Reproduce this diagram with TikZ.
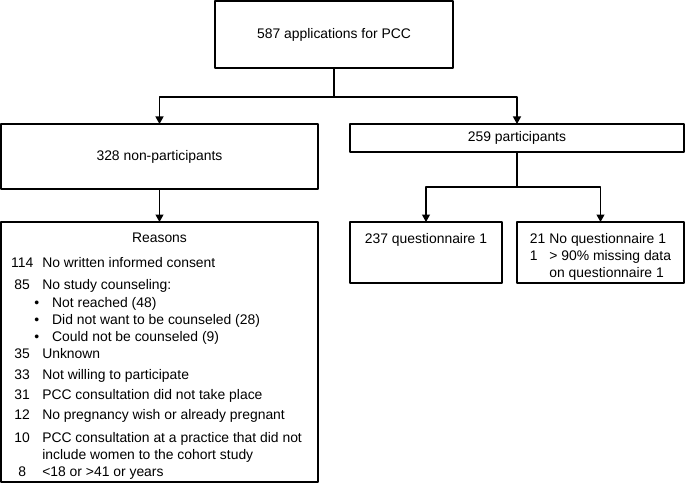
\documentclass[tikz,border=0pt]{standalone}
\usepackage{fontspec}
\setmainfont{Liberation Sans}
\usetikzlibrary{arrows.meta}

\tikzset{
  flowbox/.style={draw, rectangle, line width=1.1pt, inner sep=0pt, outer sep=0pt,
    font=\fontsize{13.9}{17}\selectfont},
  link/.style={line width=1.1pt},
}
\newcommand{\rsnitem}{\hspace{-8pt}\textbullet\hspace{13pt}}

\begin{document}
\begin{tikzpicture}[line cap=round,line join=round,>={Triangle[width=8pt,length=7.5pt]},x=1pt,y=-1pt]
      \useasboundingbox (0,0) rectangle (685,489);

      % Add Boxes
      \node[flowbox, minimum width=238, minimum height=67] (apps) at (334,34.5) {587 applications for PCC};
      \node[flowbox, minimum width=317, minimum height=65] (nonpart) at (159.5,156.5) {328 non-participants};
      \node[flowbox, minimum width=334, minimum height=28] (part) at (517,138) {259 participants};
      \node[flowbox, minimum width=152, minimum height=61] (quest) at (426,252.5)
        {\raisebox{-5pt}[\height][\depth]{\begin{tabular}{@{}l@{}}237 questionnaire 1\\ \strut\\ \strut\end{tabular}}};
      \node[flowbox, minimum width=167, minimum height=61] (noquest) at (600.5,252.5)
        {\raisebox{-5pt}[\height][\depth]{\begin{tabular}{@{}l@{\hspace{4pt}}l@{}}
          21 & No questionnaire 1\\
          1 & > 90\% missing data\\
           & on questionnaire 1
        \end{tabular}}};
      \node[flowbox, minimum width=317, minimum height=260] (reasons) at (159.5,352)
        {\raisebox{-4pt}[\height][\depth]{\begin{tabular}{@{}c@{\hspace{9pt}}l@{\hspace{6pt}}}
          \multicolumn{2}{@{}c@{}}{Reasons}\\[8pt]
          114 & No written informed consent\\[5pt]
          85 & No study counseling:\\[1pt]
           & \rsnitem Not reached (48)\\
           & \rsnitem Did not want to be counseled (28)\\
           & \rsnitem Could not be counseled (9)\\
          35 & Unknown\\[4pt]
          33 & Not willing to participate\\[3pt]
          31 & PCC consultation did not take place\\[3pt]
          12 & No pregnancy wish or already pregnant\\[6pt]
          10 & PCC consultation at a practice that did not\\
           & include women to the cohort study\\
          8 & <18 or >41 or years
        \end{tabular}}};

      % Add Arrows
      \coordinate (split1) at (334,97);
      \coordinate (split2) at (517,187);
      \draw[link] (apps.south) -- (split1);
      \draw[link,->] (split1) -| (nonpart.north);
      \draw[link,->] (split1) -| (part.north);
      \draw[link,->] (nonpart.south) -- (reasons.north);
      \draw[link] (part.south) -- (split2);
      \draw[link,->] (split2) -| (quest.north);
      \draw[link,->] (split2) -| (noquest.north);
    \end{tikzpicture}
\end{document}
